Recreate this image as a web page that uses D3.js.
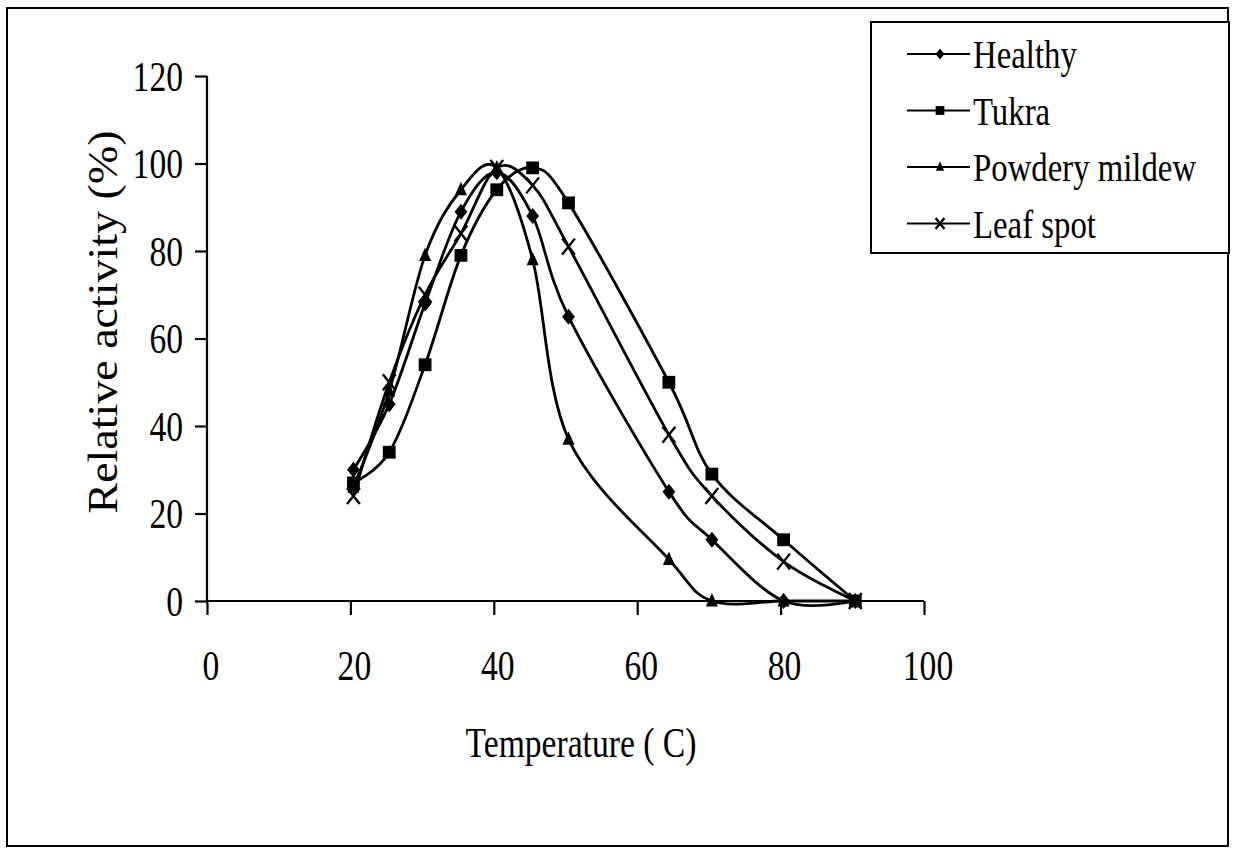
<!DOCTYPE html>
<html>
<head>
<meta charset="utf-8">
<script src="https://cdn.jsdelivr.net/npm/d3@7"></script>
<style>
html,body{margin:0;padding:0;background:#fff;}
svg{display:block;}
text{font-family:"Liberation Serif","Times New Roman",serif;fill:#000;}
</style>
</head>
<body>
<svg id="chart" width="1234" height="850"></svg>
<script>
// ---- data ----
const temps = [20, 25, 30, 35, 40, 45, 50, 64, 70, 80, 90];
const healthy = [30, 45, 68, 89, 98, 88, 65, 25, 14, 0, 0];
const tukra = [27, 34, 54, 79, 94, 99, 91, 50, 29, 14, 0];
const powderyMildew = [26, 48, 79, 94, 99, 78, 37, 9.5, 0, 0, 0];
const leafSpot = [24, 50, 70, 84, 99, 95, 81, 38, 24, 9, 0];
const seriesNames = ["Healthy", "Tukra", "Powdery mildew", "Leaf spot"];
const seriesMarkers = ["diamond", "square", "triangle", "cross"];
const xTicks = [0, 20, 40, 60, 80, 100];
const yTicks = [0, 20, 40, 60, 80, 100, 120];
const xTitle = "Temperature ( C)";
const yTitle = "Relative activity (%)";

const seriesValues = [healthy, tukra, powderyMildew, leafSpot];

const svg = d3.select("#chart");
const X0 = 207, X1 = 924, Y0 = 601, Y1 = 76;
const x = d3.scaleLinear().domain([0, 100]).range([X0, X1]);
const y = d3.scaleLinear().domain([0, 120]).range([Y0, Y1]);
const SX = 0.8;

// outer frame
svg.append("rect").attr("x", 7).attr("y", 8).attr("width", 1221).attr("height", 838)
  .attr("fill", "none").attr("stroke", "#000").attr("stroke-width", 2);

// axes
const gy = svg.append("g").attr("transform", `translate(${X0},0)`)
  .call(d3.axisLeft(y).tickValues(yTicks).tickSize(12).tickFormat(""));
const gx = svg.append("g").attr("transform", `translate(0,${Y0})`)
  .call(d3.axisBottom(x).tickValues(xTicks).tickSize(14).tickFormat(""));
[gy, gx].forEach(g => {
  g.select(".domain").attr("stroke", "#000").attr("stroke-width", 2.2);
  g.selectAll(".tick line").attr("stroke", "#000").attr("stroke-width", 2.2);
});
gy.select(".domain").attr("d", `M0,${Y1}V${Y0}`);
gx.select(".domain").attr("d", `M${X0},0H${X1}`);

// tick labels
yTicks.forEach(t => {
  svg.append("text")
    .attr("transform", `translate(183,${y(t)}) scale(${SX},1)`)
    .attr("text-anchor", "end").attr("dy", "0.35em")
    .attr("font-size", 42).text(t);
});
xTicks.forEach(t => {
  svg.append("text")
    .attr("transform", `translate(${x(t) + 4},665) scale(${SX},1)`)
    .attr("text-anchor", "middle").attr("dy", "0.35em")
    .attr("font-size", 42).text(t);
});

// axis titles
svg.append("text")
  .attr("transform", `translate(581,742) scale(${SX},1)`)
  .attr("text-anchor", "middle").attr("dy", "0.35em")
  .attr("font-size", 42).text(xTitle);
svg.append("text")
  .attr("transform", `translate(102,322) scale(0.9,1) rotate(-90)`)
  .attr("text-anchor", "middle").attr("dy", "0.35em")
  .attr("font-size", 46).text(yTitle);

// lines
const line = d3.line()
  .x(d => x(d[0]) + 3)
  .y(d => y(d[1]))
  .curve(d3.curveCatmullRom.alpha(0));

function drawMarker(g, type, cx, cy, s) {
  if (type === "diamond") {
    g.append("path").attr("d", `M${cx},${cy - s}L${cx + s * 0.8},${cy}L${cx},${cy + s}L${cx - s * 0.8},${cy}Z`).attr("fill", "#000");
  } else if (type === "square") {
    g.append("rect").attr("x", cx - s * 0.8).attr("y", cy - s * 0.8).attr("width", s * 1.6).attr("height", s * 1.6).attr("fill", "#000");
  } else if (type === "triangle") {
    g.append("path").attr("d", `M${cx},${cy - s}L${cx + s * 0.75},${cy + s * 0.7}L${cx - s * 0.75},${cy + s * 0.7}Z`).attr("fill", "#000");
  } else {
    g.append("path").attr("d", `M${cx - s * 0.8},${cy - s}L${cx + s * 0.8},${cy + s}M${cx + s * 0.8},${cy - s}L${cx - s * 0.8},${cy + s}`)
      .attr("stroke", "#000").attr("stroke-width", 2.4).attr("fill", "none");
  }
}

seriesValues.forEach((vals, i) => {
  const pts = temps.map((t, j) => [t, vals[j]]);
  svg.append("path").datum(pts).attr("d", line)
    .attr("fill", "none").attr("stroke", "#000").attr("stroke-width", 2.8);
  const g = svg.append("g");
  pts.forEach(p => drawMarker(g, seriesMarkers[i], x(p[0]) + 3, y(p[1]), 8));
});

// legend
const LX = 871, LY = 22;
svg.append("rect").attr("x", LX).attr("y", LY).attr("width", 1229 - LX).attr("height", 253 - LY)
  .attr("fill", "#fff").attr("stroke", "#000").attr("stroke-width", 2);
seriesNames.forEach((name, i) => {
  const cy = 54 + i * 56.5;
  svg.append("line").attr("x1", 907).attr("x2", 970).attr("y1", cy).attr("y2", cy)
    .attr("stroke", "#000").attr("stroke-width", 2);
  drawMarker(svg, seriesMarkers[i], 940, cy, 5.5);
  svg.append("text")
    .attr("transform", `translate(973,${cy}) scale(0.82,1)`)
    .attr("dy", "0.35em").attr("font-size", 40).text(name);
});
</script>
</body>
</html>
